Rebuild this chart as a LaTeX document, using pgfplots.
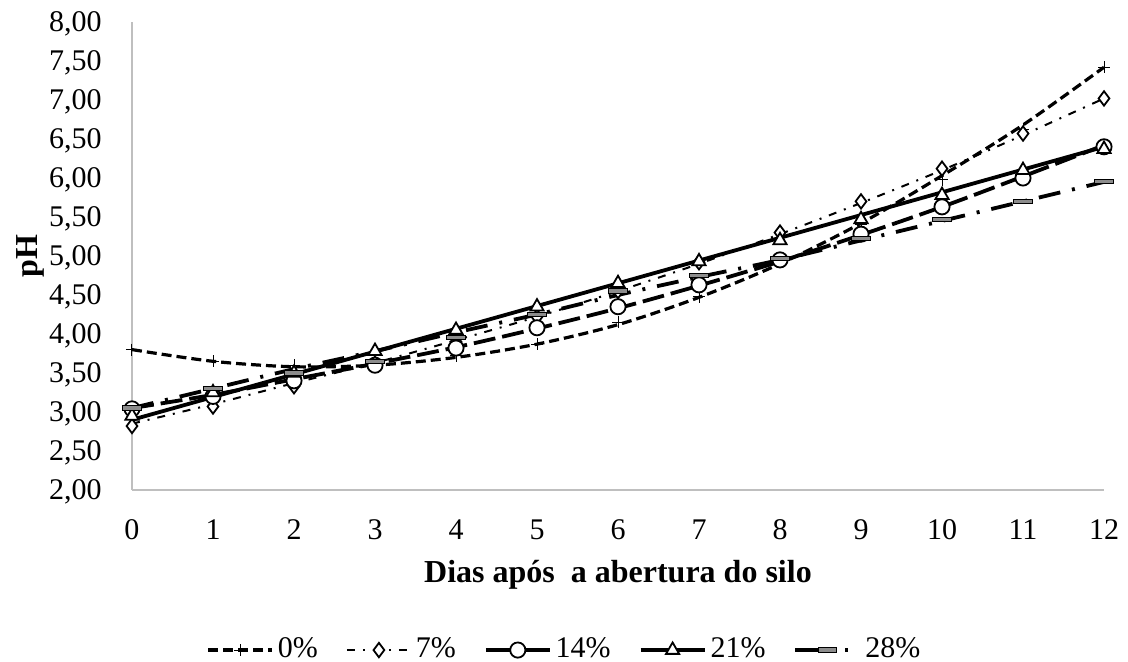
\documentclass[border=0pt]{standalone}
\usepackage{fontspec}
\setmainfont{Liberation Serif}
\usepackage{pgfplots}
\pgfplotsset{compat=1.18}
\begin{document}
\fontsize{15}{18}\selectfont
\begin{tikzpicture}
\useasboundingbox (-66pt,-86pt) rectangle (498pt,245pt);
\begin{axis}[
  at={(0,0)}, anchor=south west,
  scale only axis, width=486pt, height=234pt,
  xmin=0, xmax=12, ymin=2, ymax=8,
  xtick={0,...,12},
  ytick={2,2.5,...,8},
  major tick length=0pt,
  axis x line*=bottom, axis y line*=left,
  axis line style={draw=black!25, line width=0.9pt},
  x axis line style={-}, y axis line style={-},
  /pgf/number format/assume math mode=true,
  yticklabel={\pgfmathprintnumber[fixed,fixed zerofill,precision=2,use comma]{\tick}},
  xticklabel style={anchor=base, yshift=-24.5pt, inner sep=0pt},
  yticklabel style={anchor=base east, inner sep=0pt, xshift=-15pt, yshift=-5pt},
  xlabel={\textbf{Dias após\ \ a abertura do silo}},
  ylabel={\textbf{pH}},
  xlabel style={at={(axis description cs:0.5,-0.182)}, anchor=center, font=\fontsize{16}{19}\selectfont},
  ylabel style={at={(axis description cs:-0.105,0.5)}, anchor=center, font=\fontsize{16}{19}\selectfont},
  legend columns=5,
  legend style={draw=none, fill=none, at={(0.446,-0.342)}, anchor=center,
    font=\fontsize{15}{18}\selectfont,
    /tikz/every even column/.append style={column sep=12pt}},
]
% ---- trend lines ----
\addplot[black, line width=1.6pt, dash pattern=on 5pt off 2.5pt, smooth, forget plot] coordinates {
(0,3.80)(1,3.65)(2,3.58)(3,3.60)(4,3.70)(5,3.87)(6,4.12)(7,4.47)(8,4.90)(9,5.42)(10,6.03)(11,6.68)(12,7.42)};
\addplot[black, line width=1.0pt, dash pattern=on 4pt off 4pt on 1pt off 4pt, smooth, forget plot] coordinates {
(0,2.85)(1,3.10)(2,3.37)(3,3.63)(4,3.92)(5,4.22)(6,4.55)(7,4.90)(8,5.28)(9,5.68)(10,6.10)(11,6.55)(12,7.02)};
\addplot[black, line width=1.9pt, dash pattern=on 11pt off 3.5pt, smooth, forget plot] coordinates {
(0,3.05)(1,3.22)(2,3.42)(3,3.62)(4,3.83)(5,4.07)(6,4.33)(7,4.62)(8,4.93)(9,5.27)(10,5.63)(11,6.02)(12,6.42)};
\addplot[black, line width=1.9pt, forget plot] coordinates {(0,2.90)(12,6.40)};
\addplot[black, line width=1.9pt, dash pattern=on 11pt off 6pt on 1.5pt off 6pt, smooth, forget plot] coordinates {
(0,3.05)(1,3.30)(2,3.55)(3,3.78)(4,4.02)(5,4.25)(6,4.50)(7,4.73)(8,4.95)(9,5.20)(10,5.45)(11,5.70)(12,5.95)};
% ---- data markers ----
\addplot[only marks, mark=+, mark size=3pt, mark options={black, line width=0.5pt},
  legend image code/.code={\draw[black, line width=1.6pt, dash pattern=on 5pt off 2.5pt] (0pt,0pt)--(32pt,0pt);
  \draw[black, mark=+, mark size=3pt, mark options={line width=0.5pt, solid}] plot coordinates {(16pt,0pt)};}] coordinates {
(0,3.80)(1,3.65)(2,3.60)(3,3.60)(4,3.72)(5,3.87)(6,4.15)(7,4.48)(8,4.95)(9,5.40)(10,5.98)(11,6.62)(12,7.42)};
\addlegendentry{0\%}
\addplot[only marks, mark=diamond*, mark size=3.6pt, mark options={draw=black, fill=white, line width=0.9pt},
  legend image code/.code={\draw[black, line width=1.0pt, dash pattern=on 4pt off 4pt on 1pt off 4pt] (0pt,0pt)--(32pt,0pt);
  \draw[black, mark=diamond*, mark size=3.6pt, mark options={draw=black, fill=white, line width=0.9pt, solid}] plot coordinates {(16pt,0pt)};}] coordinates {
(0,2.82)(1,3.07)(2,3.33)(3,3.62)(4,3.90)(5,4.22)(6,4.55)(7,4.92)(8,5.30)(9,5.70)(10,6.12)(11,6.57)(12,7.02)};
\addlegendentry{7\%}
\addplot[only marks, mark=*, mark size=3.8pt, mark options={draw=black, fill=white, line width=0.9pt},
  legend image code/.code={\draw[black, line width=1.9pt] (0pt,0pt)--(32pt,0pt);
  \draw[black, mark=*, mark size=3.8pt, mark options={draw=black, fill=white, line width=0.9pt}] plot coordinates {(16pt,0pt)};}] coordinates {
(0,3.04)(1,3.20)(2,3.40)(3,3.60)(4,3.82)(5,4.08)(6,4.35)(7,4.63)(8,4.95)(9,5.28)(10,5.63)(11,6.00)(12,6.40)};
\addlegendentry{14\%}
\addplot[only marks, mark=triangle*, mark size=3.8pt, mark options={draw=black, fill=white, line width=0.9pt},
  legend image code/.code={\draw[black, line width=1.9pt] (0pt,0pt)--(32pt,0pt);
  \draw[black, mark=triangle*, mark size=3.8pt, mark options={draw=black, fill=white, line width=0.9pt}] plot coordinates {(16pt,0pt)};}] coordinates {
(0,2.95)(1,3.25)(2,3.50)(3,3.78)(4,4.05)(5,4.35)(6,4.65)(7,4.93)(8,5.20)(9,5.47)(10,5.78)(11,6.10)(12,6.37)};
\addlegendentry{21\%}
\addplot[only marks, mark=square*, mark size=3.5pt, mark options={draw=black, fill=black!45, line width=0.5pt, xscale=1.3, yscale=0.3},
  legend image code/.code={\draw[black, line width=1.9pt, dash pattern=on 20pt off 5pt on 1.5pt off 6pt] (0pt,0pt)--(32pt,0pt);
  \draw[black, mark=square*, mark size=3.5pt, mark options={draw=black, fill=black!45, line width=0.5pt, xscale=1.3, yscale=0.3, solid}] plot coordinates {(16pt,0pt)};}] coordinates {
(0,3.05)(1,3.30)(2,3.50)(3,3.65)(4,3.95)(5,4.25)(6,4.55)(7,4.75)(8,4.97)(9,5.22)(10,5.47)(11,5.70)(12,5.95)};
\addlegendentry{28\%}
\end{axis}
\end{tikzpicture}
\end{document}
